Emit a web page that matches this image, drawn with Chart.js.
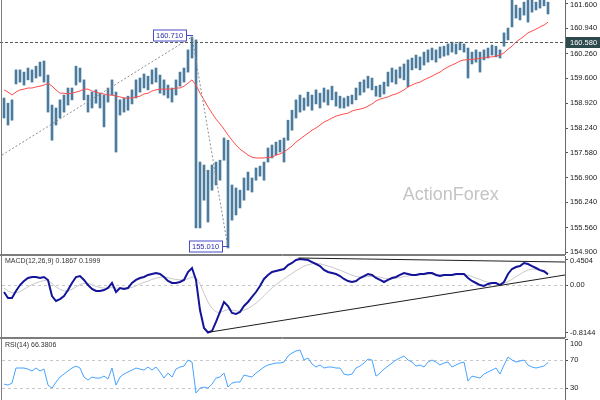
<!DOCTYPE html>
<html><head><meta charset="utf-8">
<script src="https://cdn.jsdelivr.net/npm/chart.js@4"></script>
<style>
html,body{margin:0;padding:0;background:#fff;width:600px;height:400px;overflow:hidden;}
canvas{position:absolute;left:0;}
</style></head><body>
<canvas id="main" width="600" height="256" style="top:0"></canvas>
<canvas id="macd" width="600" height="94" style="top:246px"></canvas>
<canvas id="rsi" width="600" height="69" style="top:331px"></canvas>
<script>
// ---------------- DATA ----------------
const priceTicks = [161.6,160.94,160.26,159.6,158.92,158.24,157.58,156.9,156.24,155.56,154.9];
const macdTicks = [0.4504, 0, -0.8144];
const rsiTicks = [100, 70, 30];

const highs = [159.06,158.92,159.01,159.82,159.82,159.76,159.87,159.82,159.92,160.03,
160.06,159.68,158.87,158.79,159.01,159.14,159.33,159.33,159.92,159.87,
159.55,159.14,159.22,159.28,159.19,159.14,159.33,159.55,159.22,159.01,
159.06,159.11,159.28,159.55,159.60,159.71,159.65,159.82,159.87,159.68,
159.55,159.41,159.33,159.55,159.76,159.87,160.36,160.71,160.63,157.33,
157.25,157.11,157.25,157.33,157.38,157.98,157.92,156.71,156.63,156.57,
156.90,157.06,156.90,157.17,157.22,157.33,157.71,157.79,157.87,157.92,
157.98,158.46,158.73,159.01,159.14,159.06,159.22,159.14,159.28,159.19,
159.33,159.28,159.38,159.22,159.11,159.06,159.11,159.14,159.33,159.49,
159.55,159.65,159.60,159.38,159.41,159.49,159.76,159.87,159.82,159.90,
159.98,160.09,160.14,160.22,160.17,160.30,160.36,160.41,160.36,160.44,
160.46,160.52,160.57,160.52,160.57,160.52,160.41,160.30,160.36,160.30,
160.36,160.41,160.49,160.46,160.36,160.82,160.95,161.78,161.57,161.49,
161.65,161.75,161.75,161.65,161.76,161.78,161.65];

const lows = [158.52,158.33,158.46,159.44,159.49,159.41,159.55,159.49,159.60,159.65,
159.49,158.68,157.92,158.33,158.52,158.68,158.87,159.01,159.41,159.49,
159.01,158.68,158.79,158.92,158.79,158.28,158.95,159.14,157.60,158.60,
158.68,158.73,158.90,159.06,159.22,159.33,159.28,159.44,159.49,159.19,
159.14,159.06,158.95,159.14,159.38,159.49,159.76,160.14,155.55,155.55,
156.30,155.71,156.57,156.71,156.84,157.38,155.01,155.76,155.90,156.09,
156.30,156.57,156.52,156.84,156.95,156.84,157.33,157.44,157.52,157.60,
157.33,157.92,158.19,158.52,158.68,158.73,158.84,158.73,158.90,158.79,
158.95,158.87,159.01,158.84,158.79,158.79,158.84,158.90,159.01,159.14,
159.22,159.33,159.28,159.11,159.09,159.17,159.38,159.49,159.44,159.60,
159.55,159.36,159.82,159.87,159.82,159.95,160.03,160.09,160.03,160.14,
160.19,160.22,160.30,160.25,160.36,160.30,159.60,159.98,160.03,159.76,
160.09,160.14,160.22,160.17,160.14,160.46,160.63,160.98,161.22,161.17,
161.30,161.11,161.38,161.44,161.49,161.55,161.33];

const ma = [159.28,159.22,159.14,159.22,159.28,159.30,159.33,159.33,159.36,159.38,
159.41,159.46,159.38,159.28,159.19,159.19,159.17,159.19,159.22,159.25,
159.30,159.30,159.25,159.22,159.19,159.17,159.14,159.14,159.11,159.09,
159.06,159.06,159.06,159.09,159.11,159.17,159.19,159.25,159.28,159.30,
159.30,159.30,159.30,159.33,159.33,159.38,159.46,159.55,159.41,159.19,
159.01,158.82,158.65,158.49,158.36,158.22,158.06,157.92,157.79,157.68,
157.60,157.52,157.46,157.44,157.44,157.44,157.46,157.46,157.52,157.55,
157.60,157.68,157.76,157.87,157.95,158.03,158.11,158.19,158.25,158.33,
158.41,158.46,158.52,158.57,158.60,158.63,158.65,158.71,158.74,158.76,
158.79,158.84,158.90,158.98,159.03,159.06,159.09,159.14,159.17,159.22,
159.28,159.36,159.41,159.46,159.49,159.55,159.60,159.65,159.71,159.76,
159.84,159.90,159.95,160.00,160.06,160.09,160.09,160.11,160.11,160.14,
160.14,160.17,160.17,160.19,160.22,160.28,160.38,160.46,160.57,160.65,
160.73,160.82,160.87,160.92,160.98,161.03,161.11];

const macd = [-0.117,-0.220,-0.220,-0.100,0.003,0.072,0.124,0.141,0.141,0.124,
0.141,0.090,-0.186,-0.272,-0.238,-0.186,-0.083,0.038,0.141,0.158,
0.090,0.003,-0.065,-0.100,-0.100,-0.083,-0.048,0.038,-0.117,-0.048,
-0.065,-0.048,0.038,0.090,0.124,0.141,0.176,0.193,0.210,0.193,
0.141,0.072,0.038,0.038,0.055,0.090,0.227,0.296,0.090,-0.427,
-0.737,-0.8144,-0.789,-0.633,-0.461,-0.289,-0.358,-0.478,-0.496,-0.461,
-0.358,-0.289,-0.203,-0.117,-0.014,0.107,0.176,0.227,0.244,0.262,
0.279,0.348,0.382,0.434,0.4504,0.442,0.434,0.399,0.365,0.330,
0.262,0.227,0.210,0.193,0.158,0.107,0.072,0.055,0.072,0.124,
0.158,0.193,0.176,0.124,0.090,0.055,0.090,0.124,0.141,0.176,
0.210,0.193,0.176,0.176,0.193,0.193,0.210,0.210,0.176,0.158,
0.176,0.176,0.176,0.193,0.193,0.193,0.124,0.072,0.038,0.003,
-0.014,0.021,0.038,0.038,0.003,0.055,0.193,0.279,0.313,0.330,
0.382,0.365,0.330,0.296,0.260,0.240,0.1867];

const signal = [-0.05,-0.10,-0.13,-0.13,-0.11,-0.07,-0.03,0.01,0.04,0.06,
0.08,0.08,0.03,-0.03,-0.07,-0.10,-0.10,-0.07,-0.03,0.01,
0.03,0.03,0.01,-0.02,-0.04,-0.05,-0.05,-0.04,-0.05,-0.05,
-0.05,-0.05,-0.04,-0.01,0.02,0.05,0.07,0.10,0.12,0.14,
0.14,0.13,0.11,0.10,0.09,0.09,0.11,0.14,0.13,0.02,
-0.14,-0.29,-0.40,-0.46,-0.47,-0.44,-0.42,-0.43,-0.44,-0.45,
-0.43,-0.40,-0.36,-0.31,-0.25,-0.18,-0.11,-0.05,0.01,0.06,
0.11,0.16,0.20,0.25,0.29,0.33,0.35,0.37,0.37,0.37,
0.35,0.33,0.31,0.28,0.26,0.23,0.20,0.17,0.15,0.14,
0.14,0.15,0.15,0.15,0.14,0.12,0.11,0.11,0.12,0.13,
0.15,0.16,0.17,0.17,0.18,0.18,0.19,0.19,0.19,0.18,
0.18,0.18,0.18,0.18,0.18,0.18,0.17,0.15,0.12,0.10,
0.07,0.05,0.04,0.03,0.02,0.03,0.06,0.10,0.15,0.19,
0.23,0.26,0.28,0.27,0.25,0.22,0.1999];

const rsi = [35.7,34.3,37.1,58.6,58.6,58.6,57.1,54.3,58.6,54.3,
57.1,34.3,30.0,38.6,45.7,50.0,54.3,58.6,61.4,58.6,
45.7,41.4,45.7,44.3,44.3,47.1,42.9,58.6,34.3,45.7,
50.0,52.9,55.7,58.6,57.1,55.7,60.0,55.7,60.0,52.9,
44.3,51.4,45.7,57.1,60.0,61.4,70.0,67.1,22.9,30.0,
31.4,30.0,35.7,44.3,45.7,51.4,31.4,37.1,38.6,38.6,
48.6,47.1,45.7,51.4,55.7,60.0,62.9,64.3,65.7,65.7,
67.1,75.7,80.0,82.9,84.3,70.0,72.9,64.3,60.0,62.9,
58.6,60.0,60.0,58.6,58.6,50.0,48.6,50.0,58.6,61.4,
65.7,71.4,70.0,47.1,51.4,57.1,61.4,65.7,70.0,72.9,
75.7,70.0,67.1,61.4,62.9,60.0,67.1,70.0,67.1,62.9,
65.7,67.1,60.0,62.9,65.7,67.1,40.0,47.1,45.7,44.3,
50.0,52.9,55.7,58.6,50.0,62.9,74.3,70.0,67.1,68.6,
70.0,62.9,60.0,58.6,60.0,61.4,66.3806];

const refLine = 160.58;
const swingHigh = {i: 47, v: 160.71};
const swingLow = {i: 56, v: 155.01};
const mainTrendStart = {i: -0.5, v: 157.52};
const xMin = -0.5, xMax = 140.25;
const macdUpperTrend = [{x: 73.6, y: 0.468}, {x: xMax, y: 0.399}];
const macdLowerTrend = [{x: 51.5, y: -0.806}, {x: xMax, y: 0.176}];

// ---------------- HELPERS ----------------
const FONT = '"Liberation Sans", Arial, sans-serif';
function yAxis(min, max, ticks, fmt) {
  return {
    position: 'right', min, max,
    afterFit(s) { s.width = 35; s.paddingTop = 0; s.paddingBottom = 0; },
    afterBuildTicks(s) { s.ticks = ticks.map(v => ({value: v})); },
    ticks: {display: false, callback: fmt},
    grid: {drawOnChartArea: false, drawTicks: true, tickLength: 3, color: '#555', tickColor: '#555'},
    border: {display: true, color: '#6a6a6a', width: 1}
  };
}
function xAxis() { return {type: 'linear', min: xMin, max: xMax, display: false, offset: false, grid: {offset: false}}; }
function pts(arr) { return arr.map((v, i) => ({x: i, y: v})); }

function drawLabels(chart) {
  const {ctx, chartArea: a} = chart, s = chart.scales.y;
  ctx.save();
  ctx.font = '7.5px ' + FONT; ctx.fillStyle = '#1a1a1a';
  ctx.textBaseline = 'middle'; ctx.textAlign = 'left';
  s.ticks.forEach(t => {
    let y = s.getPixelForValue(t.value);
    y = Math.max(y, a.top + 4.5);
    ctx.fillText(t.label, a.right + 5, y);
  });
  ctx.restore();
}
function drawFrame(chart, top, bottom) {
  const {ctx, chartArea: a} = chart;
  ctx.save();
  ctx.strokeStyle = '#7d7d7d'; ctx.lineWidth = 1;
  ctx.beginPath();
  ctx.moveTo(1.5, a.top - 1); ctx.lineTo(1.5, a.bottom + 1);
  if (top) { ctx.moveTo(0, a.top - 0.5); ctx.lineTo(a.right, a.top - 0.5); }
  if (bottom) { ctx.moveTo(0, a.bottom + 0.5); ctx.lineTo(a.right, a.bottom + 0.5); }
  ctx.stroke();
  ctx.restore();
}
function hLine(chart, v, color, dash, x0) {
  const {ctx, chartArea: a} = chart, s = chart.scales.y;
  const y = Math.round(s.getPixelForValue(v)) + 0.5;
  ctx.save(); ctx.strokeStyle = color; ctx.lineWidth = 1; ctx.setLineDash(dash);
  ctx.beginPath(); ctx.moveTo(x0, y); ctx.lineTo(a.right, y); ctx.stroke(); ctx.restore();
  return y;
}
function swingBox(chart, sw) {
  const {ctx} = chart, x = chart.scales.x, y = chart.scales.y;
  const px = x.getPixelForValue(sw.i), py = Math.round(y.getPixelForValue(sw.v)) - 1.5;
  const txt = sw.v.toFixed(3);
  ctx.save();
  ctx.font = '7.5px ' + FONT;
  const w = Math.ceil(ctx.measureText(txt).width) + 5, h = 11;
  const r = Math.round(px - 6) + 0.5;
  ctx.fillStyle = '#fff'; ctx.fillRect(r - w, py - h / 2, w, h);
  ctx.strokeStyle = '#4b4bc8'; ctx.lineWidth = 1;
  ctx.strokeRect(r - w, py - h / 2, w, h);
  ctx.beginPath(); ctx.moveTo(r, py); ctx.lineTo(px + 1, py); ctx.stroke();
  ctx.fillStyle = '#3030a8'; ctx.textBaseline = 'middle'; ctx.textAlign = 'left';
  ctx.fillText(txt, r - w + 2.5, py + 0.5);
  ctx.restore();
}

const common = {responsive: false, animation: false, devicePixelRatio: 1,
  plugins: {legend: {display: false}, tooltip: {enabled: false}}};

// ---------------- MAIN PRICE PANEL ----------------
new Chart(document.getElementById('main'), {
  type: 'bar',
  data: {datasets: [
    {type: 'line', data: [{x: mainTrendStart.i, y: mainTrendStart.v}, {x: swingHigh.i, y: swingHigh.v}],
     borderColor: '#8c8c8c', borderWidth: 1, borderDash: [2, 2], pointRadius: 0, order: 0},
    {type: 'line', data: [{x: swingHigh.i, y: swingHigh.v}, {x: swingLow.i, y: swingLow.v}],
     borderColor: '#8c8c8c', borderWidth: 1, borderDash: [2, 2], pointRadius: 0, order: 0},
    {type: 'line', data: pts(ma), borderColor: '#ff4d4d', borderWidth: 1, pointRadius: 0, order: 1},
    {type: 'bar', data: lows.map((l, i) => ({x: i, y: [l, highs[i]]})),
     backgroundColor: '#4b7b9d', barThickness: 2, order: 2}
  ]},
  options: Object.assign({}, common, {
    layout: {padding: {left: 2, right: 0, top: 0, bottom: 2}},
    scales: {x: xAxis(), y: yAxis(154.846, 161.708, priceTicks, v => v.toFixed(3))}
  }),
  plugins: [{
    id: 'mainDeco',
    beforeDatasetsDraw(chart) {
      const {ctx, chartArea: a} = chart;
      ctx.save(); ctx.font = '18px ' + FONT; ctx.fillStyle = '#c4c4c4';
      ctx.textAlign = 'center'; ctx.textBaseline = 'middle';
      ctx.fillText('ActionForex', a.left + a.width * 0.797, a.top + a.height * 0.768);
      ctx.restore();
    },
    afterDraw(chart) {
      const {ctx, chartArea: a} = chart;
      const ry = hLine(chart, refLine, '#5a5a5a', [3, 2], 0);
      drawLabels(chart);
      ctx.save();
      ctx.fillStyle = '#2e4a4c'; ctx.fillRect(a.right + 1, ry - 5.5, 34, 11);
      ctx.fillStyle = '#fff'; ctx.font = '7.5px ' + FONT; ctx.textBaseline = 'middle';
      ctx.fillText(refLine.toFixed(3), a.right + 5, ry);
      ctx.restore();
      swingBox(chart, swingHigh);
      swingBox(chart, swingLow);
      drawFrame(chart, false, true);
    }
  }]
});

// ---------------- MACD PANEL ----------------
new Chart(document.getElementById('macd'), {
  type: 'line',
  data: {datasets: [
    {data: macdUpperTrend, borderColor: '#1e1e1e', borderWidth: 1, pointRadius: 0, order: 0},
    {data: macdLowerTrend, borderColor: '#1e1e1e', borderWidth: 1, pointRadius: 0, order: 0},
    {data: pts(macd), borderColor: '#14149a', borderWidth: 2, pointRadius: 0, order: 1},
    {data: pts(signal), borderColor: '#c9c9c9', borderWidth: 1, pointRadius: 0, order: 2}
  ]},
  options: Object.assign({}, common, {
    layout: {padding: {left: 2, right: 0, top: 10, bottom: 3}},
    scales: {x: xAxis(), y: yAxis(-0.8915, 0.5026, macdTicks, v => v === 0 ? '0.00' : v.toFixed(4))}
  }),
  plugins: [{
    id: 'macdDeco',
    beforeDatasetsDraw(chart) { hLine(chart, 0, '#c8c8c8', [3, 3], chart.chartArea.left); },
    afterDraw(chart) {
      const {ctx, chartArea: a} = chart;
      drawLabels(chart);
      ctx.save(); ctx.font = '7px ' + FONT; ctx.fillStyle = '#333';
      ctx.textBaseline = 'top';
      ctx.fillText('MACD(12,26,9) ' + macd[macd.length - 1].toFixed(4) + ' ' + signal[signal.length - 1].toFixed(4), a.left + 3, a.top + 2);
      ctx.restore();
      drawFrame(chart, true, true);
    }
  }]
});

// ---------------- RSI PANEL ----------------
new Chart(document.getElementById('rsi'), {
  type: 'line',
  data: {datasets: [
    {data: pts(rsi), borderColor: '#47a3ff', borderWidth: 1, pointRadius: 0}
  ]},
  options: Object.assign({}, common, {
    layout: {padding: {left: 2, right: 0, top: 8, bottom: 0}},
    scales: {x: xAxis(), y: yAxis(13, 100, rsiTicks, v => String(v))}
  }),
  plugins: [{
    id: 'rsiDeco',
    beforeDatasetsDraw(chart) {
      hLine(chart, 70, '#c8c8c8', [3, 3], chart.chartArea.left);
      hLine(chart, 30, '#c8c8c8', [3, 3], chart.chartArea.left);
    },
    afterDraw(chart) {
      const {ctx, chartArea: a} = chart;
      drawLabels(chart);
      ctx.save(); ctx.font = '7px ' + FONT; ctx.fillStyle = '#333';
      ctx.textBaseline = 'top';
      ctx.fillText('RSI(14) ' + rsi[rsi.length - 1].toFixed(4), a.left + 3, a.top + 3);
      ctx.restore();
      drawFrame(chart, true, false);
    }
  }]
});
</script>
</body></html>
